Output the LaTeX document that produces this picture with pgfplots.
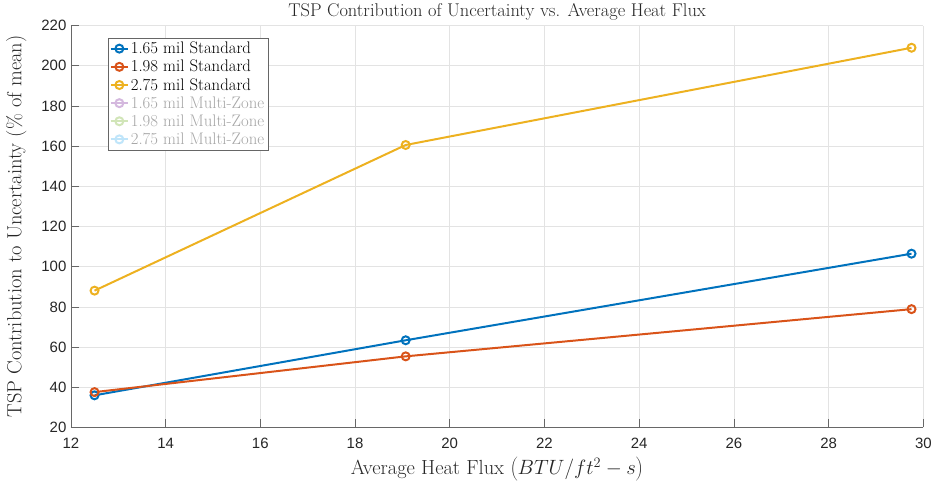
\documentclass[border=0pt]{standalone}
\usepackage{fontspec}
\setsansfont{Liberation Sans}
\usepackage{pgfplots}
\pgfplotsset{compat=1.18}
\definecolor{mblue}{rgb}{0,0.447,0.741}
\definecolor{morange}{rgb}{0.85,0.325,0.098}
\definecolor{myellow}{rgb}{0.929,0.694,0.125}
\definecolor{fpurple}{rgb}{0.83,0.72,0.87}
\definecolor{fgreen}{rgb}{0.82,0.9,0.72}
\definecolor{fcyan}{rgb}{0.75,0.9,0.98}
\definecolor{axgray}{rgb}{0.15,0.15,0.15}
\begin{document}
\begin{tikzpicture}
\begin{axis}[
  scale only axis,
  width=855pt, height=403pt,
  xmin=12, xmax=30, ymin=20, ymax=220,
  xtick={12,14,...,30}, ytick={20,40,...,220},
  axis x line*=bottom, axis y line*=left,
  axis line style={color=axgray!70, line width=0.7pt},
  tick pos=left, tick align=inside,
  major tick length=8pt,
  tick style={color=axgray!70, line width=0.7pt},
  grid=major,
  grid style={color=black!11, line width=0.7pt},
  /pgf/number format/assume math mode=true,
  tick label style={font=\sffamily\fontsize{15}{16}\selectfont, color=axgray},
  xticklabel shift=7pt,
  yticklabel shift=1pt,
  title={TSP Contribution of Uncertainty vs. Average Heat Flux},
  title style={font=\fontsize{18.5}{20}\selectfont, color=axgray, yshift=-4pt},
  xlabel={Average Heat Flux $\left(BTU/ft^2-s\right)$},
  ylabel={TSP Contribution to Uncertainty (\% of mean)},
  label style={font=\fontsize{20.5}{22}\selectfont, color=axgray},
  xlabel style={yshift=-2pt},
  ylabel style={at={(axis description cs:-0.048,0.5)}, anchor=south},
  extra description/.code={\path (axis description cs:-0.083,0.5) circle (0.1pt);},
  legend style={at={(0.043,0.97)}, anchor=north west, draw=black!60,
    line width=0.7pt,
    font=\fontsize{16.8}{18}\selectfont, row sep=1pt, inner sep=2pt,
    cells={anchor=west}},
  legend image post style={line width=2pt},
  every axis plot/.append style={line width=2pt, mark=o, mark size=4pt, mark options={line width=2pt}},
]
\addplot[color=mblue] coordinates {(12.5,36) (19.07,63.4) (29.75,106.5)};
\addlegendentry{1.65 mil Standard}
\addplot[color=morange] coordinates {(12.5,37.6) (19.07,55.4) (29.75,78.9)};
\addlegendentry{1.98 mil Standard}
\addplot[color=myellow] coordinates {(12.5,88.1) (19.07,160.6) (29.75,209)};
\addlegendentry{2.75 mil Standard}
\addlegendimage{color=fpurple, line width=2pt, mark=o, mark size=4pt}
\addlegendentry{\textcolor{black!35}{1.65 mil Multi-Zone}}
\addlegendimage{color=fgreen, line width=2pt, mark=o, mark size=4pt}
\addlegendentry{\textcolor{black!35}{1.98 mil Multi-Zone}}
\addlegendimage{color=fcyan, line width=2pt, mark=o, mark size=4pt}
\addlegendentry{\textcolor{black!35}{2.75 mil Multi-Zone}}
\end{axis}
\end{tikzpicture}
\end{document}
